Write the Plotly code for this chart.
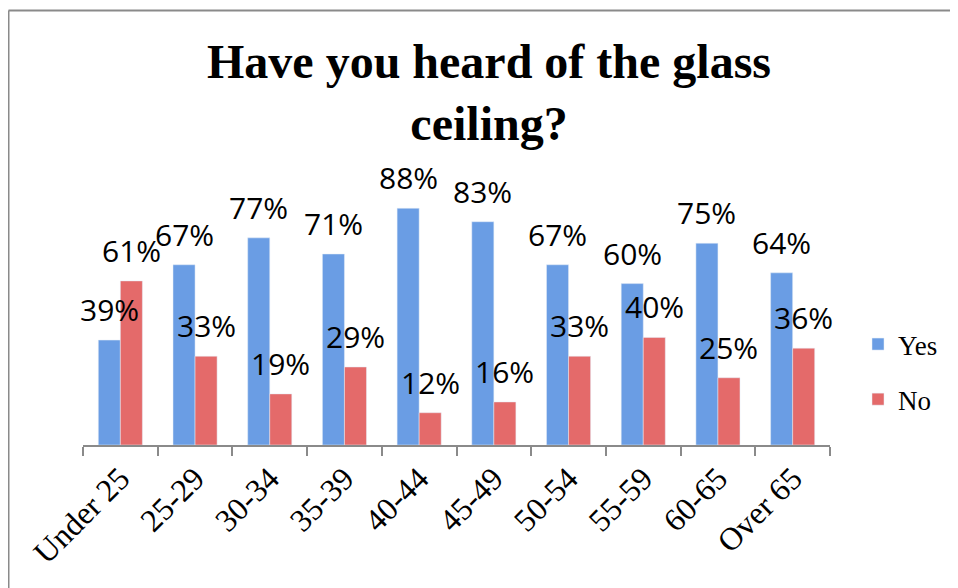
import plotly.graph_objects as go

categories = ["Under 25", "25-29", "30-34", "35-39", "40-44",
              "45-49", "50-54", "55-59", "60-65", "Over 65"]
yes_pct = [39, 67, 77, 71, 88, 83, 67, 60, 75, 64]
no_pct = [61, 33, 19, 29, 12, 16, 33, 40, 25, 36]
title_text = "Have you heard of the glass<br>ceiling?"

# page body has an 8px margin; lay out in page pixels and convert
OFF = 8
W, H = 958 - OFF, 588 - OFF
AX_L, AX_R, AX_B, AX_T = 83, 830, 445, 176   # page pixels
ML, MR, MT, MB = AX_L - OFF, 958 - AX_R, AX_T - OFF, 588 - AX_B
PW, PH = W - ML - MR, H - MT - MB

def px_x(px):
    return (px - AX_L) / PW

def px_y(py):
    return (AX_B - py) / PH

BLUE = "#6a9de4"
RED = "#e46a6a"
GRAY = "#8a8a8a"

fig = go.Figure()
fig.add_trace(go.Bar(x=categories, y=yes_pct, name="Yes", marker_color=BLUE,
                     legendgroup="a"))
fig.add_trace(go.Bar(x=categories, y=no_pct, name="No", marker_color=RED,
                     legendgroup="b"))

ann = []
for c, v in zip(categories, yes_pct):
    ann.append(dict(x=c, y=v, xref="x", yref="y", text=f"{v}%", showarrow=False,
                    xshift=-11, yshift=8, yanchor="bottom",
                    font=dict(family="Open Sans", size=30, color="black")))
for c, v in zip(categories, no_pct):
    ann.append(dict(x=c, y=v, xref="x", yref="y", text=f"{v}%", showarrow=False,
                    xshift=11, yshift=8, yanchor="bottom",
                    font=dict(family="Open Sans", size=30, color="black")))
ann.append(dict(x=px_x(489), y=px_y(92), xref="paper", yref="paper",
                text=f"<b>{title_text}</b>", showarrow=False, xanchor="center",
                yanchor="middle",
                font=dict(family="Liberation Serif", size=48, color="black")))

shapes = [
    dict(type="line", xref="paper", yref="paper", x0=px_x(8.5), x1=px_x(958),
         y0=px_y(10.5), y1=px_y(10.5), line=dict(color=GRAY, width=2)),
    dict(type="line", xref="paper", yref="paper", x0=px_x(8.5), x1=px_x(8.5),
         y0=px_y(10.5), y1=px_y(588), line=dict(color=GRAY, width=2)),
]

fig.update_layout(
    width=W, height=H,
    margin=dict(l=ML, r=MR, t=MT, b=MB, autoexpand=False),
    paper_bgcolor="white", plot_bgcolor="white",
    barmode="group", bargap=0.41, bargroupgap=0,
    showlegend=True,
    legend=dict(x=px_x(858), y=px_y(372), xanchor="left", yanchor="middle",
                font=dict(family="Liberation Serif", size=27, color="black"),
                traceorder="grouped", tracegroupgap=17,
                bgcolor="rgba(0,0,0,0)"),
    xaxis=dict(type="category", range=[-0.5, len(categories) - 0.5],
               showline=True, linecolor=GRAY, linewidth=2,
               ticks="outside", tickson="boundaries", ticklen=9, tickwidth=2,
               tickcolor=GRAY, tickangle=-45, showgrid=False, automargin=False,
               tickfont=dict(family="Liberation Serif", size=32, color="black")),
    yaxis=dict(range=[0, 100], visible=False, showgrid=False, automargin=False),
    annotations=ann,
    shapes=shapes,
)

fig.write_html("out.html")
